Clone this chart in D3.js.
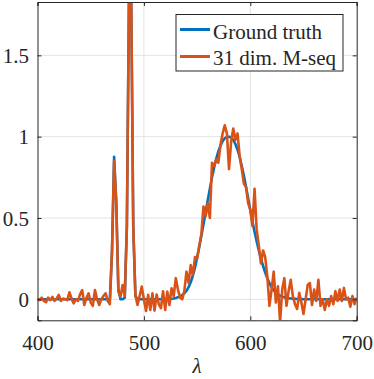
<!DOCTYPE html>
<html>
<head>
<meta charset="utf-8">
<script src="https://cdn.jsdelivr.net/npm/d3@7"></script>
<style>
  html, body { margin: 0; padding: 0; background: #fff; }
  svg { display: block; }
  svg text { font-family: "Liberation Serif", "Times New Roman", serif !important; fill: #262626; }
</style>
</head>
<body>
<svg id="chart" width="374" height="379"></svg>
<script>
// ---- data ----
const wavelengths = [
  400,402,404,406,408,410,412,414,416,418,
  420,422,424,426,428,430,432,434,436,438,
  440,442,444,446,448,450,452,454,456,458,
  460,462,464,466,468,470,472,474,476,478,
  480,482,484,486,488,490,492,494,496,498,
  500,502,504,506,508,510,512,514,516,518,
  520,522,524,526,528,530,532,534,536,538,
  540,542,544,546,548,550,552,554,556,558,
  560,562,564,566,568,570,572,574,576,578,
  580,582,584,586,588,590,592,594,596,598,
  600,602,604,606,608,610,612,614,616,618,
  620,622,624,626,628,630,632,634,636,638,
  640,642,644,646,648,650,652,654,656,658,
  660,662,664,666,668,670,672,674,676,678,
  680,682,684,686,688,690,692,694,696,698,
  700
];
const groundTruth = [
  0,0,0,0,0,0,0,0,0,0,
  0,0,0,0,0,0,0,0,0,0,
  0,0,0,0,0,0,0,0,0,0,
  0,0,0,0,0,0.28,0.877,0.60,0.06,0,
  0,0.01,0.45,1.86,1.9,0.45,0.02,0,0,0,
  0,0,0,0,0,0,0,0,0,0,
  0,0.001,0.002,0.003,0.005,0.008,0.012,0.018,0.026,0.037,
  0.052,0.075,0.105,0.145,0.195,0.255,0.32,0.39,0.46,0.535,
  0.61,0.68,0.75,0.81,0.865,0.91,0.945,0.972,0.99,0.999,
  1.0,0.995,0.98,0.955,0.92,0.875,0.82,0.76,0.69,0.62,
  0.55,0.48,0.415,0.355,0.30,0.25,0.205,0.165,0.13,0.10,
  0.075,0.055,0.04,0.03,0.022,0.016,0.012,0.009,0.007,0.005,
  0.004,0.003,0.002,0.002,0.001,0,0,0,0,0,
  0,0,0,0,0,0,0,0,0,0,
  0,0,0,0,0,0,0,0,0,0,
  0
];
const mseq31 = [
  0,-0.005,0.01,-0.01,-0.018,0.01,-0.005,0.015,-0.01,0.005,
  0.027,-0.01,0.005,0,-0.005,0.043,0.005,-0.025,0,-0.01,
  0.03,0.057,-0.035,0.01,0.037,-0.02,-0.04,0.057,0,-0.035,
  0,0.02,0.037,-0.01,-0.03,0.30,0.85,0.60,0.05,0.016,
  0.088,0.02,0.45,1.88,1.92,0.45,0.027,-0.035,0.02,0.078,
  0,-0.072,0.027,-0.066,0.037,-0.07,0.03,-0.03,-0.055,0.05,
  -0.066,0.047,-0.035,0.068,0.02,0.13,0.06,0.01,0,0.05,
  0.17,0.10,0.21,0.15,0.26,0.25,0.33,0.40,0.57,0.51,
  0.59,0.50,0.84,0.82,0.86,0.84,0.95,1.02,1.07,1.02,
  0.80,0.97,1.05,0.98,1.02,0.88,0.80,0.71,0.69,0.59,
  0.55,0.45,0.68,0.43,0.33,0.22,0.30,0.26,0.14,-0.04,
  0.06,0.17,-0.02,0.08,-0.14,0.06,0.13,-0.04,0.05,0.12,
  0.02,-0.03,-0.06,0.04,-0.02,-0.09,0,0.09,0.10,-0.035,
  0.06,-0.01,0.12,-0.04,0,-0.066,0,-0.04,0.02,-0.03,
  0.05,-0.01,0.06,-0.01,0.07,0,0.01,-0.045,0.02,-0.03,
  0.01
];
const xTicks = [400, 500, 600, 700];
const yTicks = [0, 0.5, 1, 1.5];
const yTickLabels = ["0", "0.5", "1", "1.5"];
const seriesNames = ["Ground truth", "31 dim. M-seq"];
const seriesColors = ["#0072BD", "#D95319"];
const xDomain = [400, 700];
const yDomain = [-0.129, 1.828];

// ---- layout ----
const L = 37.5, R = 356.7, T = 2, B = 320.3;
const serif = "'Liberation Serif', 'Times New Roman', serif";
const svg = d3.select("#chart").attr("font-family", serif);
const x = d3.scaleLinear().domain(xDomain).range([L, R]);
const y = d3.scaleLinear().domain(yDomain).range([B, T]);
const axisColor = "#262626";

svg.append("defs").append("clipPath").attr("id", "plotclip")
  .append("rect").attr("x", L).attr("y", T).attr("width", R - L).attr("height", B - T);

// grid
const grid = svg.append("g");
grid.selectAll("line.gx").data(xTicks.filter(d => d > xDomain[0] && d < xDomain[1])).join("line")
  .attr("x1", d => x(d)).attr("x2", d => x(d)).attr("y1", T).attr("y2", B)
  .attr("stroke", "#e3e3e3").attr("stroke-width", 1);
grid.selectAll("line.gy").data(yTicks).join("line")
  .attr("x1", L).attr("x2", R).attr("y1", d => y(d)).attr("y2", d => y(d))
  .attr("stroke", "#e3e3e3").attr("stroke-width", 1);

// data lines
const pts = (vals) => wavelengths.map((w, i) => [w, vals[i]]);
const line = d3.line().x(d => x(d[0])).y(d => y(d[1]));
const plot = svg.append("g").attr("clip-path", "url(#plotclip)");
[groundTruth, mseq31].forEach((vals, i) => {
  plot.append("path").datum(pts(vals))
    .attr("d", line).attr("fill", "none")
    .attr("stroke", seriesColors[i]).attr("stroke-width", 2.6)
    .attr("stroke-linejoin", "round").attr("stroke-linecap", "butt");
});

// axes (box with inward ticks on all sides)
const tickLen = 4;
const axB = svg.append("g").attr("transform", `translate(0,${B})`)
  .call(d3.axisBottom(x).tickValues(xTicks).tickSize(-tickLen).tickPadding(12).tickFormat(d3.format("d")));
const axT = svg.append("g").attr("transform", `translate(0,${T})`)
  .call(d3.axisTop(x).tickValues(xTicks).tickSize(-tickLen).tickFormat(""));
const axL = svg.append("g").attr("transform", `translate(${L},0)`)
  .call(d3.axisLeft(y).tickValues(yTicks).tickSize(-tickLen).tickPadding(12)
    .tickFormat((d, i) => yTickLabels[i]));
const axR = svg.append("g").attr("transform", `translate(${R},0)`)
  .call(d3.axisRight(y).tickValues(yTicks).tickSize(-tickLen).tickFormat(""));
[axB, axT, axL, axR].forEach(g => {
  g.attr("font-family", serif).attr("font-size", 21);
  g.select(".domain").attr("stroke", axisColor).attr("stroke-width", 1);
  g.selectAll(".tick line").attr("stroke", axisColor).attr("stroke-width", 1);
  g.selectAll(".tick text").attr("fill", axisColor)
    .attr("font-family", serif).style("font-size", "21px");
});
axB.selectAll(".tick text").attr("dy", "0.71em").attr("y", 15);
axL.selectAll(".tick text").attr("x", -8.5).attr("dy", "0.34em");

// x label
svg.append("text").attr("x", (L + R) / 2).attr("y", 373)
  .attr("text-anchor", "middle").style("font-style", "italic").style("font-size", "21px")
  .text("λ");

// legend
const lg = svg.append("g");
lg.append("rect").attr("x", 176).attr("y", 14.5).attr("width", 167).attr("height", 56.5)
  .attr("fill", "#fff").attr("stroke", axisColor).attr("stroke-width", 1);
const legY = [29.5, 56.5];
const legTextY = [38.5, 65];
seriesNames.forEach((name, i) => {
  lg.append("line").attr("x1", 180).attr("x2", 210).attr("y1", legY[i]).attr("y2", legY[i])
    .attr("stroke", seriesColors[i]).attr("stroke-width", 3);
  lg.append("text").attr("x", 213).attr("y", legTextY[i]).style("font-size", "21px").text(name);
});
</script>
</body>
</html>
